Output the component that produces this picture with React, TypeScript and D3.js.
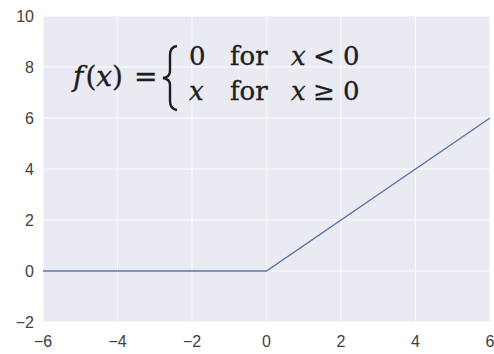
import React from "react";
import * as d3 from "d3";

// ReLU sampled at the domain ends and the kink
const xs = [-6, 0, 6];
const ys = [0, 0, 6];
const xTicks = [-6, -4, -2, 0, 2, 4, 6];
const yTicks = [-2, 0, 2, 4, 6, 8, 10];

const W = 494;
const H = 354;
const M = { left: 43, right: 4, top: 16, bottom: 32 };

export default function App() {
  const x = d3.scaleLinear().domain([-6, 6]).range([M.left, W - M.right]);
  const y = d3.scaleLinear().domain([-2, 10]).range([H - M.bottom, M.top]);
  const pts = xs.map((v, i) => [v, ys[i]] as [number, number]);
  const line = d3
    .line<[number, number]>()
    .x((d) => x(d[0]))
    .y((d) => y(d[1]));

  const tickFont = {
    fontFamily: "'Liberation Sans', Arial, sans-serif",
    fontSize: 16,
    fill: "#404040",
  } as const;
  const mathFont = "'DejaVu Serif', 'Liberation Serif', serif";

  return (
    <svg
      width={W}
      height={H}
      style={{ position: "absolute", left: 0, top: 0, background: "#fff" }}
    >
      <rect
        x={x(-6)}
        y={y(10)}
        width={x(6) - x(-6)}
        height={y(-2) - y(10)}
        fill="#eaeaf2"
      />
      {xTicks.map((t) => (
        <line
          key={"gx" + t}
          x1={x(t)}
          x2={x(t)}
          y1={y(-2)}
          y2={y(10)}
          stroke="#fff"
          strokeWidth={1}
        />
      ))}
      {yTicks.map((t) => (
        <line
          key={"gy" + t}
          x1={x(-6)}
          x2={x(6)}
          y1={y(t)}
          y2={y(t)}
          stroke="#fff"
          strokeWidth={1}
        />
      ))}
      <path d={line(pts) || ""} fill="none" stroke="#5d73a6" strokeWidth={1.4} />

      {yTicks.map((t) => (
        <text
          key={"ly" + t}
          x={M.left - 9}
          y={y(t) + 5.5}
          textAnchor="end"
          {...tickFont}
        >
          {t < 0 ? "\u2212" + Math.abs(t) : t}
        </text>
      ))}
      {xTicks.map((t) => (
        <text
          key={"lx" + t}
          x={x(t)}
          y={H - M.bottom + 25}
          textAnchor="middle"
          {...tickFont}
        >
          {t < 0 ? "\u2212" + Math.abs(t) : t}
        </text>
      ))}

      {/* piecewise definition of f */}
      <g
        fill="#1e1e1e"
        stroke="#1e1e1e"
        strokeWidth={0.35}
        fontFamily={mathFont}
        fontSize={26}
      >
        <text x={73} y={86} fontSize={28}>
          <tspan fontStyle="italic">f</tspan>
          <tspan dx={2}>(</tspan>
          <tspan fontStyle="italic">x</tspan>
          <tspan>)</tspan>
        </text>
        <text x={134} y={86} fontSize={28}>=</text>
        <path
          d="M177,46 Q170,47 170,55 L170,71 Q170,77 163,78 Q170,79 170,85 L170,101 Q170,109 177,110"
          fill="none"
          stroke="#1e1e1e"
          strokeWidth={2.4}
        />
        <text x={189} y={65}>0</text>
        <text x={230} y={65}>for</text>
        <text x={291} y={65} fontStyle="italic">x</text>
        <text x={313} y={65}>&lt;</text>
        <text x={343} y={65}>0</text>
        <text x={189} y={100} fontStyle="italic">x</text>
        <text x={230} y={100}>for</text>
        <text x={291} y={100} fontStyle="italic">x</text>
        <text x={313} y={100}>≥</text>
        <text x={343} y={100}>0</text>
      </g>
    </svg>
  );
}
